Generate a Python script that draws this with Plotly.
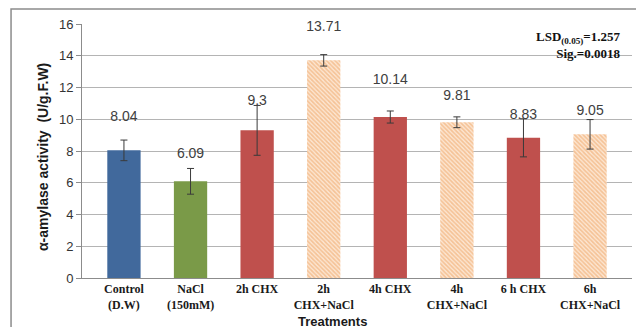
import plotly.graph_objects as go

categories = ["Control<br>(D.W)", "NaCl<br>(150mM)", "2h CHX", "2h<br>CHX+NaCl",
              "4h CHX", "4h<br>CHX+NaCl", "6 h CHX", "6h<br>CHX+NaCl"]
values = [8.04, 6.09, 9.3, 13.71, 10.14, 9.81, 8.83, 9.05]
errors = [0.65, 0.81, 1.57, 0.36, 0.38, 0.34, 1.2, 0.93]
value_labels = ["8.04", "6.09", "9.3", "13.71", "10.14", "9.81", "8.83", "9.05"]
# vertical position of each value label (data units)
label_y = [10.08, 7.81, 11.09, 15.76, 12.44, 11.41, 10.21, 10.46]
hatched = [False, False, False, True, False, True, False, True]

x = list(range(len(categories)))
solid_colors = ["#41699C", "#7A9A48", "#BF504D", None, "#BF504D", None, "#BF504D", None]

sx = [i for i in x if not hatched[i]]
hx = [i for i in x if hatched[i]]

fig = go.Figure()
fig.add_trace(go.Bar(
    x=sx, y=[values[i] for i in sx], width=0.5,
    marker=dict(color=[solid_colors[i] for i in sx], line=dict(width=0)),
    error_y=dict(type="data", array=[errors[i] for i in sx], visible=True, color="#3A3A3A",
                 thickness=1, width=3.5),
    hoverinfo="skip", showlegend=False,
))
fig.add_trace(go.Bar(
    x=hx, y=[values[i] for i in hx], width=0.5,
    marker=dict(color="#FCE6D2", line=dict(width=0),
                pattern=dict(shape="\\", fgcolor="#EE9E5A", bgcolor="#FCE6D2",
                             size=3, solidity=0.55, fillmode="overlay")),
    error_y=dict(type="data", array=[errors[i] for i in hx], visible=True, color="#3A3A3A",
                 thickness=1, width=3.5),
    hoverinfo="skip", showlegend=False,
))
fig.add_trace(go.Scatter(
    x=x, y=label_y, mode="text", text=value_labels,
    textfont=dict(family="Liberation Sans", size=14, color="#404040"),
    showlegend=False, hoverinfo="skip", cliponaxis=False,
))

fig.update_layout(
    width=644, height=327,
    margin=dict(l=74, r=20, t=16, b=57),
    paper_bgcolor="white", plot_bgcolor="white",
    barmode="overlay",
    xaxis=dict(range=[-0.63, 7.63], tickmode="array", tickvals=x,
               ticktext=["<b>" + c + "</b>" for c in categories],
               showgrid=False, showline=True, linecolor="#8C8C8C", linewidth=1,
               ticks="", zeroline=False, automargin=False,
               tickfont=dict(family="Liberation Serif", size=12, color="#1A1A1A")),
    yaxis=dict(range=[0, 16], tickvals=[0, 2, 4, 6, 8, 10, 12, 14, 16],
               showgrid=True, gridcolor="#B4B4B4", gridwidth=1,
               showline=True, linecolor="#8C8C8C", linewidth=1,
               ticks="outside", ticklen=5, tickcolor="#8C8C8C",
               zeroline=False, automargin=False,
               tickfont=dict(family="Liberation Sans", size=13, color="#333333")),
    shapes=[dict(type="rect", xref="paper", yref="paper", x0=-0.129, y0=-0.4, x1=1.2, y1=1.059,
                 line=dict(color="#8C8C8C", width=1.5), layer="below")],
    annotations=[
        dict(xref="paper", yref="paper", x=0.982, y=0.99, xanchor="right", yanchor="top",
             align="right",
             text="<b>LSD<sub>(0.05)</sub>=1.257</b><br><b>Sig.=0.0018</b>", showarrow=False,
             font=dict(family="Liberation Serif", size=13, color="#111111")),
        dict(xref="paper", yref="paper", x=0.456, y=-0.173, xanchor="center", yanchor="middle",
             text="<b>Treatments</b>", showarrow=False,
             font=dict(family="Liberation Sans", size=13, color="#1A1A1A")),
        dict(xref="paper", yref="paper", x=-0.071, y=0.476, xanchor="center", yanchor="middle",
             text="<b>α-amylase activity  (U/g.F.W)</b>", showarrow=False, textangle=-90,
             font=dict(family="Liberation Sans", size=14, color="#1A1A1A")),
    ],
)
fig.write_html("out.html")
